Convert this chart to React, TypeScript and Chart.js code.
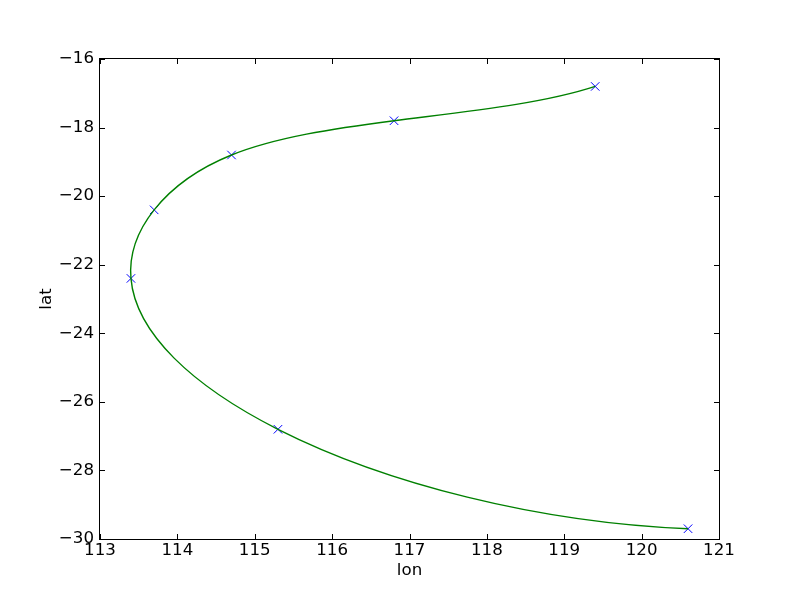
import React, { useEffect, useRef } from "react";
import { Chart, registerables } from "chart.js";

Chart.register(...registerables);

const lon = [119.4, 116.8, 114.7, 113.7, 113.4, 115.3, 120.6];
const lat = [-16.8, -17.8, -18.8, -20.4, -22.4, -26.8, -29.7];
const xTicks = [113, 114, 115, 116, 117, 118, 119, 120, 121];
const yTicks = [-30, -28, -26, -24, -22, -20, -18, -16];

const FONT = { family: "'DejaVu Sans', sans-serif", size: 16.67 };
const fmt = (v: number) => String(v).replace("-", "\u2212");

// Solve dense linear system (small n)
function solve(A: number[][], b: number[]): number[] {
  const n = b.length;
  const M = A.map((r, i) => [...r, b[i]]);
  for (let c = 0; c < n; c++) {
    let p = c;
    for (let r = c + 1; r < n; r++) if (Math.abs(M[r][c]) > Math.abs(M[p][c])) p = r;
    [M[c], M[p]] = [M[p], M[c]];
    for (let r = 0; r < n; r++) {
      if (r === c) continue;
      const f = M[r][c] / M[c][c];
      for (let k = c; k <= n; k++) M[r][k] -= f * M[c][k];
    }
  }
  return M.map((r, i) => r[n] / r[i]);
}

// Not-a-knot cubic spline derivatives at knots
function splineDerivs(t: number[], y: number[]): number[] {
  const n = t.length;
  const h = t.slice(1).map((v, i) => v - t[i]);
  const A = Array.from({ length: n }, () => new Array(n).fill(0));
  const b = new Array(n).fill(0);
  A[0][0] = h[1]; A[0][1] = -(h[0] + h[1]); A[0][2] = h[0];
  for (let i = 1; i < n - 1; i++) {
    A[i][i - 1] = h[i - 1];
    A[i][i] = 2 * (h[i - 1] + h[i]);
    A[i][i + 1] = h[i];
    b[i] = 6 * ((y[i + 1] - y[i]) / h[i] - (y[i] - y[i - 1]) / h[i - 1]);
  }
  A[n - 1][n - 3] = h[n - 2]; A[n - 1][n - 2] = -(h[n - 3] + h[n - 2]); A[n - 1][n - 1] = h[n - 3];
  const Mm = solve(A, b);
  const D: number[] = [];
  for (let i = 0; i < n - 1; i++) D.push((y[i + 1] - y[i]) / h[i] - (h[i] * (2 * Mm[i] + Mm[i + 1])) / 6);
  const k = n - 2;
  D.push((y[k + 1] - y[k]) / h[k] + (h[k] * (Mm[k] + 2 * Mm[k + 1])) / 6);
  return D;
}

const parametricSpline = {
  id: "parametricSpline",
  beforeDatasetDraw(chart: any, args: any) {
    if (args.index !== 0) return;
    const meta = chart.getDatasetMeta(0);
    const line = meta.dataset;
    const pts = meta.data;
    const xs = chart.scales.x;
    const ys = chart.scales.y;
    const t = [0];
    for (let i = 1; i < lon.length; i++) t.push(t[i - 1] + Math.hypot(lon[i] - lon[i - 1], lat[i] - lat[i - 1]));
    const dx = splineDerivs(t, lon);
    const dy = splineDerivs(t, lat);
    for (let i = 0; i < pts.length; i++) {
      const hPrev = i > 0 ? t[i] - t[i - 1] : 0;
      const hNext = i < pts.length - 1 ? t[i + 1] - t[i] : 0;
      pts[i].cp1x = xs.getPixelForValue(lon[i] - (hPrev * dx[i]) / 3);
      pts[i].cp1y = ys.getPixelForValue(lat[i] - (hPrev * dy[i]) / 3);
      pts[i].cp2x = xs.getPixelForValue(lon[i] + (hNext * dx[i]) / 3);
      pts[i].cp2y = ys.getPixelForValue(lat[i] + (hNext * dy[i]) / 3);
    }
    line._pointsUpdated = true;
    line._path = undefined;
  },
};

const frameTicks = {
  id: "frameTicks",
  afterDatasetsDraw(chart: any) {
    const { ctx, chartArea, scales } = chart;
    const { left, right, top, bottom } = chartArea;
    const L = 5;
    ctx.save();
    ctx.strokeStyle = "#000";
    ctx.lineWidth = 1;
    ctx.beginPath();
    for (const v of xTicks) {
      const px = Math.round(scales.x.getPixelForValue(v)) + 0.5;
      ctx.moveTo(px, bottom);
      ctx.lineTo(px, bottom - L);
      ctx.moveTo(px, top);
      ctx.lineTo(px, top + L);
    }
    for (const v of yTicks) {
      const py = Math.round(scales.y.getPixelForValue(v)) + 0.5;
      ctx.moveTo(left, py);
      ctx.lineTo(left + L, py);
      ctx.moveTo(right, py);
      ctx.lineTo(right - L, py);
    }
    ctx.stroke();
    ctx.strokeRect(Math.round(left) - 0.5, Math.round(top) - 0.5, Math.round(right - left) + 1, Math.round(bottom - top) + 1);
    ctx.restore();
  },
};

export default function App() {
  const ref = useRef<HTMLCanvasElement>(null);
  useEffect(() => {
    const pts = lon.map((x, i) => ({ x, y: lat[i] }));
    const chart = new Chart(ref.current as HTMLCanvasElement, {
      type: "scatter",
      data: {
        datasets: [
          {
            data: pts,
            showLine: true,
            borderColor: "#008000",
            borderWidth: 1.4,
            pointRadius: 0,
            tension: 0.4,
          } as any,
          {
            data: pts,
            showLine: false,
            pointStyle: "crossRot",
            pointRadius: 6,
            borderColor: "#0000ff",
            backgroundColor: "#0000ff",
            borderWidth: 1,
          } as any,
        ],
      },
      options: {
        animation: false,
        responsive: false,
        layout: { padding: { top: 59, right: 81, left: 0, bottom: 0 } },
        plugins: { legend: { display: false }, tooltip: { enabled: false } },
        scales: {
          x: {
            type: "linear",
            position: "bottom",
            min: 113,
            max: 121,
            afterFit: (s: any) => { s.height = 61; },
            afterBuildTicks: (s: any) => { s.ticks = xTicks.map((v) => ({ value: v })); },
            grid: { display: false, drawTicks: false },
            border: { display: false },
            ticks: { color: "#000", font: FONT, padding: 2, maxRotation: 0, callback: (v: any) => fmt(v) },
            title: { display: true, text: "lon", color: "#000", font: FONT, padding: { top: 0, bottom: 19 } },
          },
          y: {
            type: "linear",
            position: "left",
            min: -30,
            max: -16,
            afterFit: (s: any) => { s.width = 100; },
            afterBuildTicks: (s: any) => { s.ticks = yTicks.map((v) => ({ value: v })); },
            grid: { display: false, drawTicks: false },
            border: { display: false },
            ticks: { color: "#000", font: FONT, padding: 6, callback: (v: any) => fmt(v) },
            title: { display: true, text: "lat", color: "#000", font: FONT, padding: { top: 37, bottom: 0 } },
          },
        },
      },
      plugins: [parametricSpline, frameTicks],
    } as any);
    return () => chart.destroy();
  }, []);
  return (
    <canvas
      ref={ref}
      width={800}
      height={600}
      style={{ position: "absolute", left: 0, top: 0, width: 800, height: 600, display: "block" }}
    />
  );
}
